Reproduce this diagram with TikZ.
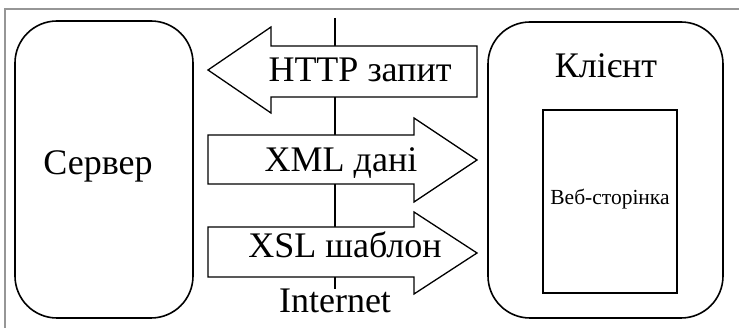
\documentclass[tikz,border=0pt]{standalone}
\usepackage{fontspec}
\setmainfont{Liberation Serif}
\definecolor{framegray}{RGB}{150,150,150}
\tikzset{
  big/.style={font=\fontsize{36}{40}\selectfont, inner sep=0pt, anchor=base},
  small/.style={font=\fontsize{21.5}{24}\selectfont, inner sep=0pt, anchor=base},
  host/.style={draw, line width=1.6pt, rounded corners=42pt, inner sep=0pt},
  flow/.style={draw, line width=1.3pt, fill=white, line join=miter},
  pagebox/.style={draw, line width=1.3pt, inner sep=0pt},
}
\begin{document}
\begin{tikzpicture}[x=1pt,y=-1pt]
\useasboundingbox (0,0) rectangle (739,328);
% frame
\draw[framegray, line width=1.5pt] (739,9) -- (5,9) -- (5,328);
% hosts
\node[host, minimum width=178pt, minimum height=297pt] (server) at (104,169.5) {};
\node[host, minimum width=235pt, minimum height=296pt] (client) at (605.5,170) {};
\node[pagebox, minimum width=134pt, minimum height=183pt] (page) at (610,201.5) {};
% labels
\node[big] (serverlbl) at (98,175) {Сервер};
\node[big] (clientlbl) at (606,78) {Клієнт};
\node[small] (pagelbl) at (610,205) {Веб-сторінка};
\node[big] (inet) at (335,313) {Internet};
% internet line
\coordinate (nettop) at (335,18);
\draw[line width=1.2pt] (nettop) -- (inet.north);
% arrows
\draw[flow] (208,70) -- (271,27) -- (271,46) -- (477,46) -- (477,97) -- (271,97) -- (271,113) -- cycle;
\draw[flow] (208,135) -- (414,135) -- (414,118) -- (477,160) -- (414,202) -- (414,184) -- (208,184) -- cycle;
\draw[flow] (208,227) -- (414,227) -- (414,212) -- (477,253) -- (414,294) -- (414,277) -- (208,277) -- cycle;
\node[big] (http) at (360,82) {HTTP запит};
\node[big] (xml) at (341,172) {XML дані};
\node[big] (xsl) at (345,258) {XSL шаблон};
\end{tikzpicture}
\end{document}
